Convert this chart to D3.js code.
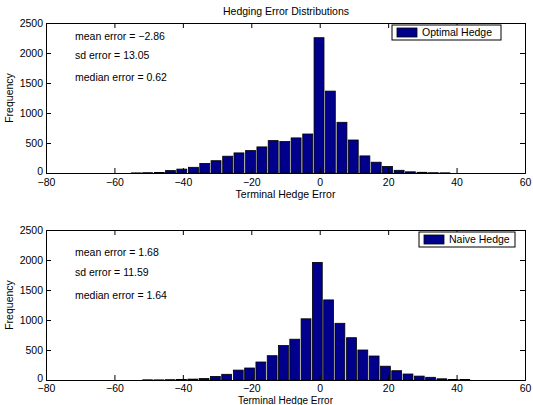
<!DOCTYPE html>
<html lang="en">
<head>
<meta charset="UTF-8">
<title>Hedging Error Distributions</title>
<style>
  body { margin: 0; background: #fff; }
  text { font-family: "Liberation Sans", Arial, sans-serif; }
</style>
</head>
<body>
<script src="https://cdn.jsdelivr.net/npm/d3@7"></script>
<script>
// bin centres and counts
var optimalCenters = [-53.6, -50.3, -46.9, -43.6, -40.3, -36.9, -33.6, -30.3, -26.9, -23.6, -20.2, -16.9, -13.6, -10.2, -6.9, -3.5, -0.2, 3.1, 6.5, 9.8, 13.2, 16.5, 19.8, 23.2, 26.5, 29.9, 33.2, 36.6];
var optimalCounts  = [2, 5, 10, 40, 65, 95, 160, 205, 280, 335, 375, 435, 540, 525, 585, 650, 2255, 1365, 845, 550, 285, 180, 110, 45, 20, 12, 5, 3];

var naiveCenters = [-50.3, -47.0, -43.7, -40.4, -37.1, -33.8, -30.5, -27.2, -23.8, -20.5, -17.2, -13.9, -10.6, -7.3, -4.0, -0.7, 2.6, 5.9, 9.3, 12.6, 15.9, 19.2, 22.5, 25.8, 29.1, 32.4, 35.7, 39.0, 42.4];
var naiveCounts  = [3, 2, 5, 10, 15, 25, 60, 95, 165, 200, 300, 405, 575, 680, 1020, 1960, 1335, 945, 705, 500, 400, 230, 155, 100, 65, 45, 20, 10, 8];

var xTicks = [-80, -60, -40, -20, 0, 20, 40, 60];
var yTicks = [0, 500, 1000, 1500, 2000, 2500];

var panels = [
  {centers: optimalCenters, counts: optimalCounts, binWidth: 3.34, top: 23,
   legend: "Optimal Hedge", leg: [392, 25, 109, 15], pad: 6, labY: 198, labFs: "10.5px",
   notes: ["mean error = \u22122.86", "sd error = 13.05", "median error = 0.62"], noteY: [40, 59, 81]},
  {centers: naiveCenters, counts: naiveCounts, binWidth: 3.31, top: 230,
   legend: "Naive Hedge", leg: [419, 232, 96, 15], pad: 5, labY: 403.5, labFs: "10px",
   notes: ["mean error = 1.68", "sd error = 11.59", "median error = 1.64"], noteY: [256, 276, 299]}
];

var W = 533, H = 405;
var left = 46, right = 525, plotH = 150;
var fs = "10.5px";

var svg = d3.select("body").append("svg").attr("width", W).attr("height", H);

svg.append("text").attr("x", 286).attr("y", 15).attr("text-anchor", "middle")
  .style("font-size", fs).text("Hedging Error Distributions");

var x = d3.scaleLinear().domain([-80, 60]).range([left, right]);

panels.forEach(function(p) {
  var y = d3.scaleLinear().domain([0, 2500]).range([p.top + plotH, p.top]);
  var g = svg.append("g");

  // bars
  var bw = (x(p.binWidth) - x(0)) * 0.87;
  g.selectAll("rect.bar").data(p.counts).enter().append("rect")
    .attr("class", "bar")
    .attr("x", function(d, i) { return x(p.centers[i]) - bw / 2; })
    .attr("y", function(d) { return y(d); })
    .attr("width", bw)
    .attr("height", function(d) { return y(0) - y(d); })
    .attr("fill", "#00008c")
    .attr("stroke", "#000").attr("stroke-width", 0.8);

  // axes (ticks pointing inward like matlab)
  var ax = g.append("g").attr("transform", "translate(0," + y(0) + ")")
    .call(d3.axisBottom(x).tickValues(xTicks).tickSize(-5).tickPadding(p.pad));
  var axT = g.append("g").attr("transform", "translate(0," + p.top + ")")
    .call(d3.axisTop(x).tickValues(xTicks).tickSize(-5).tickFormat(""));
  var ay = g.append("g").attr("transform", "translate(" + left + ",0)")
    .call(d3.axisLeft(y).tickValues(yTicks).tickSize(-5).tickPadding(3).tickFormat(d3.format("d")));
  var ayR = g.append("g").attr("transform", "translate(" + right + ",0)")
    .call(d3.axisRight(y).tickValues(yTicks).tickSize(-5).tickFormat(""));
  [ax, axT, ay, ayR].forEach(function(a) {
    a.select(".domain").attr("stroke", "#000").attr("stroke-width", 1);
    a.selectAll("line").attr("stroke", "#000");
    a.selectAll("text").style("font-size", fs).attr("fill", "#000")
      .style("font-family", "Liberation Sans, Arial, sans-serif");
  });
  ay.selectAll("text").filter(function(d) { return d === 0; }).attr("dy", "0.1em");

  // labels
  g.append("text").attr("x", (left + right) / 2).attr("y", p.labY)
    .attr("text-anchor", "middle").style("font-size", p.labFs).text("Terminal Hedge Error");
  g.append("text").attr("transform", "translate(13," + (p.top + plotH / 2) + ") rotate(-90)")
    .attr("text-anchor", "middle").style("font-size", fs).text("Frequency");

  // summary stats
  g.selectAll("text.note").data(p.notes).enter().append("text")
    .attr("class", "note")
    .attr("x", 75).attr("y", function(d, i) { return p.noteY[i]; })
    .style("font-size", fs).text(function(d) { return d; });

  // legend
  var L = p.leg;
  g.append("rect").attr("x", L[0]).attr("y", L[1]).attr("width", L[2]).attr("height", L[3])
    .attr("fill", "#fff").attr("stroke", "#000").attr("stroke-width", 1);
  g.append("rect").attr("x", L[0] + 5).attr("y", L[1] + 3).attr("width", 20).attr("height", L[3] - 6)
    .attr("fill", "#00008c").attr("stroke", "#000").attr("stroke-width", 0.8);
  g.append("text").attr("x", L[0] + 30).attr("y", L[1] + 11).style("font-size", fs).text(p.legend);
});
</script>
</body>
</html>
